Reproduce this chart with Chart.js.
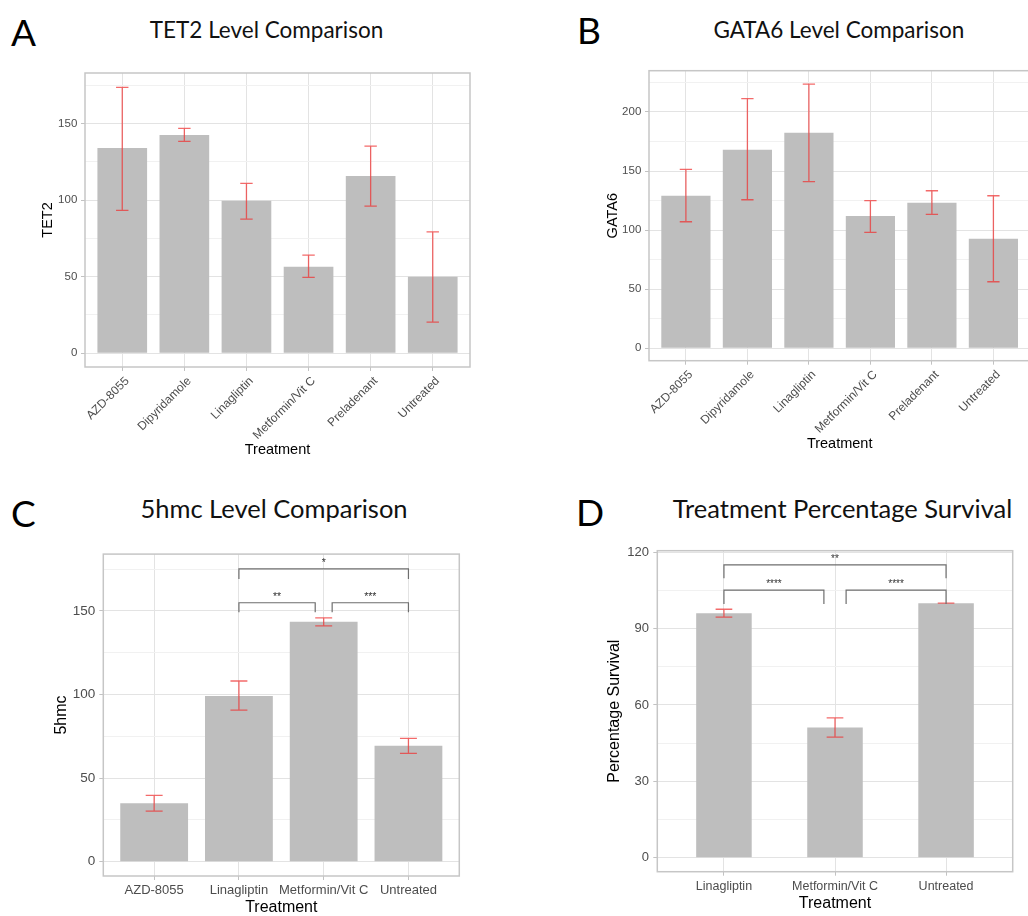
<!DOCTYPE html>
<html lang="en">
<head>
<meta charset="UTF-8" />
<title>Treatment level comparison</title>
<script src="https://cdn.jsdelivr.net/npm/chart.js"></script>
<style>
  html, body {
    margin: 0;
    padding: 0;
    background: #fff;
    width: 1028px;
    height: 916px;
    overflow: hidden;
    position: relative;
  }
  .letter {
    position: absolute;
    font-family: Lato, sans-serif;
    font-size: 37px;
    line-height: 1;
    color: #000;
  }
  .title {
    position: absolute;
    font-family: Lato, sans-serif;
    line-height: 1;
    color: #111;
    white-space: nowrap;
    transform: translateX(-50%);
  }
  canvas { position: absolute; }
</style>
</head>
<body>
  <div class="letter" style="left:11px; top:13px">A</div>
  <div class="letter" style="left:577px; top:10.5px">B</div>
  <div class="letter" style="left:11px; top:493.5px">C</div>
  <div class="letter" style="left:576px; top:493px">D</div>

  <div class="title" style="left:266.5px; top:19px; font-size:22.5px">TET2 Level Comparison</div>
  <div class="title" style="left:838.8px; top:19px; font-size:22.5px">GATA6 Level Comparison</div>
  <div class="title" style="left:274px; top:496.4px; font-size:25.5px">5hmc Level Comparison</div>
  <div class="title" style="left:842.5px; top:495.7px; font-size:25.5px">Treatment Percentage Survival</div>

  <canvas id="tet2"></canvas>
  <canvas id="gata6"></canvas>
  <canvas id="hmc"></canvas>
  <canvas id="surv"></canvas>

<script>
  // ---- data ----
  // A: TET2
  const tet2Labels = ['AZD-8055', 'Dipyridamole', 'Linagliptin', 'Metformin/Vit C', 'Preladenant', 'Untreated'];
  const tet2Mean = [134, 142.5, 99.5, 56.5, 115.7, 50];
  const tet2Low = [93.3, 138.3, 87.6, 49.5, 96.1, 20.3];
  const tet2High = [173.6, 146.9, 110.9, 64.1, 135.3, 79.3];
  const tet2Ticks = [0, 50, 100, 150];
  const tet2Minor = [25, 75, 125, 175];

  // B: GATA6
  const gata6Labels = ['AZD-8055', 'Dipyridamole', 'Linagliptin', 'Metformin/Vit C', 'Preladenant', 'Untreated'];
  const gata6Mean = [129.1, 168.0, 182.4, 111.9, 123.2, 92.7];
  const gata6Low = [107.1, 125.7, 141.0, 98.1, 113.4, 56.3];
  const gata6High = [151.4, 211.2, 223.6, 124.9, 133.3, 129.1];
  const gata6Ticks = [0, 50, 100, 150, 200];
  const gata6Minor = [25, 75, 125, 175, 225];

  // C: 5hmc
  const hmcLabels = ['AZD-8055', 'Linagliptin', 'Metformin/Vit C', 'Untreated'];
  const hmcMean = [34.9, 99.1, 143.5, 69.4];
  const hmcLow = [30.3, 90.7, 141.1, 64.8];
  const hmcHigh = [39.7, 108.1, 145.9, 73.8];
  const hmcTicks = [0, 50, 100, 150];
  const hmcMinor = [25, 75, 125, 175];
  const hmcSigFrom = [1, 1, 2.1];
  const hmcSigTo = [3, 1.9, 3];
  const hmcSigY = [175.2, 154.9, 154.9];
  const hmcSigTip = [169.1, 149.2, 149.2];
  const hmcSigText = ['*', '**', '***'];

  // D: percentage survival
  const survLabels = ['Linagliptin', 'Metformin/Vit C', 'Untreated'];
  const survMean = [96.0, 51.1, 100.0];
  const survLow = [94.5, 47.4, 100.0];
  const survHigh = [97.6, 54.9, 100.0];
  const survTicks = [0, 30, 60, 90, 120];
  const survMinor = [15, 45, 75, 105];
  const survSigFrom = [0, 0, 1.1];
  const survSigTo = [2, 0.9, 2];
  const survSigY = [115.0, 105.1, 105.1];
  const survSigTip = [109.8, 99.7, 99.7];
  const survSigText = ['**', '****', '****'];

  // ---- look ----
  Chart.defaults.font.family = "'Liberation Sans', Arial, sans-serif";
  Chart.defaults.color = '#4d4d4d';
  const BAR = '#bebebe';
  const ERR = 'rgba(238, 48, 48, 0.72)';
  const MAJOR = '#e3e3e3';
  const MINOR = '#f1f1f1';
  const TICK = '#c2c2c2';
  const FRAME = '#c6c6c6';

  function errorBars(low, high, capWidth) {
    return {
      id: 'errorBars',
      afterDatasetsDraw(chart) {
        const { ctx, scales: { x, y } } = chart;
        ctx.save();
        ctx.strokeStyle = ERR;
        ctx.lineWidth = 1.3;
        low.forEach((lo, i) => {
          const px = x.getPixelForValue(i);
          const half = x.getPixelForValue(i + capWidth / 2) - px;
          const yLo = y.getPixelForValue(lo);
          const yHi = y.getPixelForValue(high[i]);
          ctx.beginPath();
          ctx.moveTo(px, yLo); ctx.lineTo(px, yHi);
          ctx.moveTo(px - half, yHi); ctx.lineTo(px + half, yHi);
          ctx.moveTo(px - half, yLo); ctx.lineTo(px + half, yLo);
          ctx.stroke();
        });
        ctx.restore();
      }
    };
  }

  function brackets(from, to, yTop, yTip, text, fontSize) {
    return {
      id: 'brackets',
      afterDatasetsDraw(chart) {
        const { ctx, scales: { x, y } } = chart;
        ctx.save();
        ctx.strokeStyle = '#6e6e6e';
        ctx.lineWidth = 1.2;
        ctx.fillStyle = '#333';
        ctx.font = fontSize + "px 'Liberation Sans', Arial, sans-serif";
        ctx.textAlign = 'center';
        ctx.textBaseline = 'alphabetic';
        from.forEach((f, i) => {
          const x1 = x.getPixelForValue(f);
          const x2 = x.getPixelForValue(to[i]);
          const yy = y.getPixelForValue(yTop[i]);
          const yt = y.getPixelForValue(yTip[i]);
          ctx.beginPath();
          ctx.moveTo(x1, yt); ctx.lineTo(x1, yy); ctx.lineTo(x2, yy); ctx.lineTo(x2, yt);
          ctx.stroke();
          ctx.fillText(text[i], (x1 + x2) / 2, yy - 3);
        });
        ctx.restore();
      }
    };
  }

  const panelBorder = {
    id: 'panelBorder',
    afterDraw(chart) {
      const { ctx, chartArea: a } = chart;
      ctx.save();
      ctx.strokeStyle = FRAME;
      ctx.lineWidth = 1.5;
      ctx.strokeRect(a.left, a.top, a.right - a.left, a.bottom - a.top);
      ctx.restore();
    }
  };

  // plot rectangle of each panel in page pixels, plus axis band sizes
  function makePanel(id, frame, p) {
    const canvas = document.getElementById(id);
    const cl = Math.floor(frame.l - frame.yw);
    const ct = Math.floor(frame.t - 12);
    const w = Math.ceil(frame.r + 6 - cl);
    const h = Math.ceil(frame.b + frame.xh - ct);
    canvas.width = w;
    canvas.height = h;
    canvas.style.left = cl + 'px';
    canvas.style.top = ct + 'px';
    canvas.style.width = w + 'px';
    canvas.style.height = h + 'px';

    const isMajor = v => p.ticks.includes(v);

    return new Chart(canvas, {
      type: 'bar',
      data: {
        datasets: [{
          data: p.mean.map((v, i) => ({ x: i, y: v })),
          backgroundColor: BAR,
          borderWidth: 0,
          barPercentage: p.barWidth,
          categoryPercentage: 1
        }]
      },
      options: {
        responsive: false,
        animation: false,
        layout: {
          padding: {
            left: frame.l - frame.yw - cl,
            top: frame.t - ct,
            right: cl + w - frame.r,
            bottom: ct + h - frame.b - frame.xh
          }
        },
        plugins: { legend: { display: false }, tooltip: { enabled: false } },
        scales: {
          x: {
            type: 'linear',
            min: -0.6,
            max: p.labels.length - 0.4,
            offset: false,
            afterBuildTicks: ax => { ax.ticks = p.labels.map((_, i) => ({ value: i })); },
            afterFit: ax => { ax.height = frame.xh; },
            ticks: {
              autoSkip: false,
              minRotation: p.rot,
              maxRotation: p.rot,
              padding: p.xPad,
              labelOffset: p.labelOffset,
              color: '#4d4d4d',
              font: { size: p.xFont },
              callback: (v, i) => p.labels[i]
            },
            grid: { color: MAJOR, tickColor: TICK, tickLength: 4, offset: false },
            border: { display: false },
            title: { display: true, text: 'Treatment', color: '#000', font: { size: p.xTitle }, padding: 0 }
          },
          y: {
            min: p.yMin,
            max: p.yMax,
            afterBuildTicks: ax => {
              ax.ticks = [...p.ticks, ...p.minor].sort((a, b) => a - b).map(v => ({ value: v }));
            },
            afterFit: ax => { ax.width = frame.yw; },
            ticks: {
              autoSkip: false,
              padding: p.yPad,
              color: '#4d4d4d',
              font: { size: p.yFont },
              callback: v => (isMajor(v) ? String(v) : '')
            },
            grid: {
              color: c => (c.tick && isMajor(c.tick.value) ? MAJOR : MINOR),
              tickColor: c => (c.tick && isMajor(c.tick.value) ? TICK : 'rgba(0,0,0,0)'),
              tickLength: 4
            },
            border: { display: false },
            title: { display: true, text: p.yTitle, color: '#000', font: { size: p.yTitleSize }, padding: 0 }
          }
        }
      },
      plugins: p.extra.concat([panelBorder])
    });
  }

  makePanel('tet2', { l: 85, t: 73, r: 470, b: 367, yw: 45.6, xh: 92.1 }, {
    labels: tet2Labels, mean: tet2Mean, ticks: tet2Ticks, minor: tet2Minor,
    yMin: -9, yMax: 183, yTitle: 'TET2', yTitleSize: 14.5, xTitle: 14.5,
    rot: 45, xPad: 3, labelOffset: 5, xFont: 12, yFont: 11.5, yPad: 3.7, barWidth: 0.8,
    extra: [errorBars(tet2Low, tet2High, 0.2)]
  });

  makePanel('gata6', { l: 649, t: 70.7, r: 1030.3, b: 360.7, yw: 45.2, xh: 91.7 }, {
    labels: gata6Labels, mean: gata6Mean, ticks: gata6Ticks, minor: gata6Minor,
    yMin: -10.5, yMax: 234.9, yTitle: 'GATA6', yTitleSize: 14.5, xTitle: 14.5,
    rot: 45, xPad: 3, labelOffset: 5, xFont: 12, yFont: 11.5, yPad: 3.7, barWidth: 0.8,
    extra: [errorBars(gata6Low, gata6High, 0.2)]
  });

  makePanel('hmc', { l: 103.3, t: 554, r: 459.3, b: 876, yw: 51.2, xh: 41.3 }, {
    labels: hmcLabels, mean: hmcMean, ticks: hmcTicks, minor: hmcMinor,
    yMin: -8.55, yMax: 184, yTitle: '5hmc', yTitleSize: 16, xTitle: 16,
    rot: 0, xPad: 3, labelOffset: 0, xFont: 13, yFont: 13.5, yPad: 4, barWidth: 0.8,
    extra: [errorBars(hmcLow, hmcHigh, 0.2), brackets(hmcSigFrom, hmcSigTo, hmcSigY, hmcSigTip, hmcSigText, 10.5)]
  });

  makePanel('surv', { l: 657.3, t: 550.7, r: 1012.7, b: 871.7, yw: 51.9, xh: 41.9 }, {
    labels: survLabels, mean: survMean, ticks: survTicks, minor: survMinor,
    yMin: -5.5, yMax: 120.6, yTitle: 'Percentage Survival', yTitleSize: 16, xTitle: 16,
    rot: 0, xPad: 3, labelOffset: 0, xFont: 12.5, yFont: 13, yPad: 4.3, barWidth: 0.5,
    extra: [errorBars(survLow, survHigh, 0.15), brackets(survSigFrom, survSigTo, survSigY, survSigTip, survSigText, 10)]
  });
</script>
</body>
</html>
